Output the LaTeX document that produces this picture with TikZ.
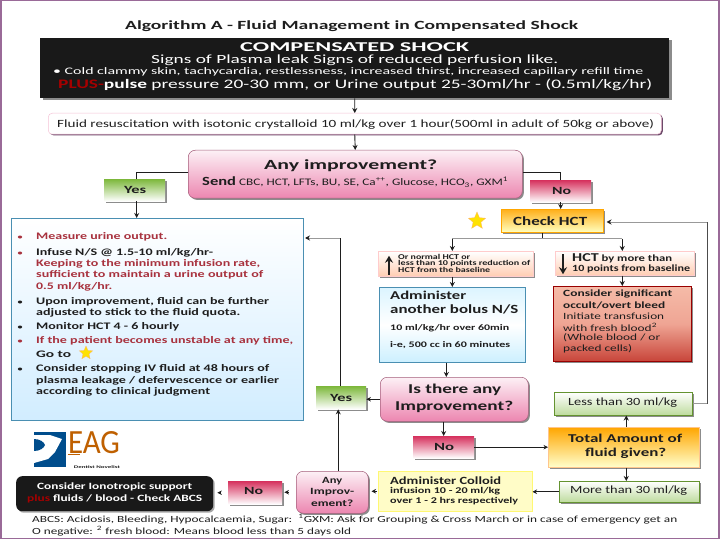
\documentclass[tikz,border=0pt]{standalone}
\usepackage{graphicx}
\usepackage{fontspec}
\setmainfont{Carlito}
\usetikzlibrary{arrows.meta,shapes.geometric,calc}
\definecolor{frame}{HTML}{9A6A98}
\definecolor{ink}{HTML}{1E1E1E}
\definecolor{redt}{HTML}{A8323E}
\definecolor{blueb}{HTML}{4A8FB2}
\definecolor{pinkb}{HTML}{EC86B0}
\definecolor{greenb}{HTML}{7DB83C}
\definecolor{crim}{HTML}{D6325E}
\definecolor{redtop}{HTML}{F5BBA8}
\definecolor{redmid}{HTML}{EFA594}
\definecolor{redbot}{HTML}{C8453A}
\newcount\tlc
\newcommand{\fsz}[2]{\fontsize{#1}{#2}\selectfont}
% \tl[options]{x1}{y}{x2}{size}{text}: a line of text fitted between x1 and x2
\newcommand{\tl}[6][]{\global\advance\tlc by 1
 \node[txt,font=\fsz{#5}{#5},#1] (line\the\tlc) at (#2,#3) {\resizebox{\dimexpr #4pt-#2pt\relax}{\height}{#6}};}
\tikzset{
 x=1pt,y=-1pt,
 shad/.style={preaction={fill=black!45,transform canvas={xshift=1.6pt,yshift=-1.6pt}}},
 box/.style={inner sep=0pt,anchor=north west,minimum width=#1},
 pinkbox/.style={shad,rounded corners=7pt,draw=pinkb!70!black,line width=.5pt,top color=white!88!pinkb,bottom color=pinkb},
 yesbox/.style={shad,top color=greenb,bottom color=white,draw=none,text=ink},
 nobox/.style={shad,top color=crim,bottom color=white,draw=none,text=ink},
 lgreen/.style={shad,top color=white,bottom color=greenb!50!white,draw=greenb!80!black,line width=.5pt,text=ink},
 hctbox/.style={shad,top color=white,bottom color=red!30!orange!30!white,draw=red!20,line width=.5pt},
 conn/.style={draw=ink,line width=.9pt,-{Stealth[length=5pt,width=5pt]}},
 thinc/.style={draw=ink,line width=.6pt,-{Stealth[length=4.5pt,width=4.5pt]}},
 plain/.style={draw=ink,line width=.9pt},
 light/.style={draw=black!40,line width=.8pt},
 txt/.style={inner sep=0pt,text=ink,anchor=west},
 starry/.style={star,star points=5,star point ratio=2.2,fill=yellow!85!orange,draw=orange!60,line width=.3pt,inner sep=0pt},
}
\begin{document}
\begin{tikzpicture}
\useasboundingbox (0,0) rectangle (720,540);
\fill[white] (0,0) rectangle (720,540);
\draw[frame,line width=1.4pt] (1,0.5) rectangle (719,538.5);
% title
\tl[font=\bfseries\fsz{12.5}{13}]{125}{26}{578}{12.5}{Algorithm A - Fluid Management in Compensated Shock}
% black box
\node[box=629pt,fill=black!90,minimum height=60pt,preaction={fill=black!45,transform canvas={xshift=3pt,yshift=-2pt}}] (shock) at (40,38) {};
\tl[text=white,font=\bfseries\fsz{13.5}{14}]{240}{47}{469}{13.5}{COMPENSATED SHOCK}
\tl[text=white]{151}{60}{558}{12.5}{Signs of Plasma leak Signs of reduced perfusion like.}
\tl[text=white]{53}{72}{643}{10}{\textbullet\ Cold clammy skin, tachycardia, restlessness, increased thirst, increased capillary refill time}
\tl[text=white]{58}{85}{652}{13}{\textcolor{red!65!black}{\bfseries PLUS-}\textbf{pulse} pressure 20-30 mm, or Urine output 25-30ml/hr - (0.5ml/kg/hr)}
% fluid
\node[box=613pt,minimum height=21pt,fill=white,draw=pinkb!50!white,rounded corners=4pt,line width=.5pt,preaction={fill=frame!70!black,transform canvas={xshift=1.5pt,yshift=-1.2pt}}] (fluid) at (48,113) {};
\tl{57}{124}{654}{11}{Fluid resuscitation with isotonic crystalloid 10 ml/kg over 1 hour(500ml in adult of 50kg or above)}
% any improvement
\node[box=334pt,pinkbox,minimum height=48pt] (any) at (188,150) {};
\tl[font=\bfseries\fsz{14}{14}]{264}{166}{437}{14}{Any improvement?}
\tl{202}{182}{508}{10}{{\bfseries\fsz{12.5}{13}Send} CBC, HCT, LFTs, BU, SE, Ca\textsuperscript{++}, Glucose, HCO\textsubscript{3}, GXM\textsuperscript{1}}
% yes / no
\node[box=61pt,yesbox,minimum height=22pt] (yes) at (104,179) {};
\tl[font=\bfseries\fsz{11}{11}]{124}{190}{146}{11}{Yes}
\node[box=61pt,nobox,minimum height=22pt] (no) at (530,180) {};
\tl[font=\bfseries\fsz{11}{11}]{552}{191}{571}{11}{No}
% check HCT
\node[box=102pt,shad,top color=orange!70!yellow!90!white,bottom color=yellow!25,draw=orange!70!yellow,line width=.5pt,minimum height=23pt] (check) at (501,209) {};
\tl[font=\bfseries\fsz{12.5}{13}]{513}{221}{587}{12.5}{Check HCT}
\node[starry,minimum size=18pt] (star1) at (477,221) {};
% blue box
\node[box=292pt,top color=white,bottom color=blue!40!cyan!18!white,draw=blueb,line width=1pt,minimum height=202pt] (blue) at (11,218) {};
\foreach \yy/\cc in {237/redt,253/redt,302/ink,327/ink,341/redt,369/ink}{\fill[\cc] (20,\yy) ellipse (2.2pt and 1.5pt);}
\tl[text=redt,font=\bfseries\fsz{10}{10}]{36}{237}{167}{10}{Measure urine output.}
\tl[font=\bfseries\fsz{10}{10}]{36}{253}{213}{10}{Infuse N/S @ 1.5-10 ml/kg/hr-}
\tl[text=redt,font=\bfseries\fsz{10}{10}]{36}{264}{260}{10}{Keeping to the minimum infusion rate,}
\tl[text=redt,font=\bfseries\fsz{10}{10}]{36}{275}{263}{10}{sufficient to maintain a urine output of}
\tl[text=redt,font=\bfseries\fsz{10}{10}]{36}{287}{112}{10}{0.5 ml/kg/hr.}
\tl[font=\bfseries\fsz{10}{10}]{36}{302}{269}{10}{Upon improvement, fluid can be further}
\tl[font=\bfseries\fsz{10}{10}]{36}{313}{240}{10}{adjusted to stick to the fluid quota.}
\tl[font=\bfseries\fsz{10}{10}]{36}{327}{179}{10}{Monitor HCT 4 - 6 hourly}
\tl[text=redt,font=\bfseries\fsz{10}{10}]{36}{341}{293}{10}{If the patient becomes unstable at any time,}
\tl[font=\bfseries\fsz{10}{10}]{36}{354}{71}{10}{Go to}
\tl[font=\bfseries\fsz{10}{10}]{36}{369}{269}{10}{Consider stopping IV fluid at 48 hours of}
\tl[font=\bfseries\fsz{10}{10}]{36}{381}{279}{10}{plasma leakage / defervescence or earlier}
\tl[font=\bfseries\fsz{10}{10}]{36}{392}{210}{10}{according to clinical judgment}
\node[starry,minimum size=14pt] (star2) at (86,353) {};
% HCT boxes
\node[box=155pt,hctbox,minimum height=25pt] (hctup) at (378,251) {};
\draw[-{Stealth[length=7pt,width=8pt]},ink,line width=1.4pt] (hctup.west) ++(11,11) coordinate (ua) -- ++(0,-19);
\tl[font=\bfseries\fsz{7.4}{8}]{398}{257}{470}{7.4}{Or normal HCT or}
\tl[font=\bfseries\fsz{7.4}{8}]{398}{263.5}{530}{7.4}{less than 10 points reduction of}
\tl[font=\bfseries\fsz{7.4}{8}]{398}{270}{490}{7.4}{HCT from the baseline}
\node[box=139pt,hctbox,minimum height=24pt] (hctdn) at (555,251) {};
\draw[-{Stealth[length=7pt,width=8pt]},ink,line width=1.4pt] (hctdn.west) ++(8,-9) coordinate (da) -- ++(0,20);
\tl[font=\bfseries\fsz{9.5}{10}]{572}{258}{672}{9.5}{{\fsz{12}{12}HCT} by more than}
\tl[font=\bfseries\fsz{9.5}{10}]{572}{268.5}{690}{9.5}{10 points from baseline}
% administer
\node[box=146pt,top color=blue!30!cyan!14!white,bottom color=blue!30!cyan!20!white,middle color=white,draw=blueb,line width=.7pt,minimum height=75pt] (admin) at (379,287) {};
\tl[font=\bfseries\fsz{12}{12}]{390}{295}{466}{12}{Administer}
\tl[font=\bfseries\fsz{12.5}{13}]{390}{309.5}{518}{12.5}{another bolus N/S}
\tl[font=\bfseries\fsz{8.5}{9}]{390}{328}{509}{8.5}{10 ml/kg/hr over 60min}
\tl[font=\bfseries\fsz{8.5}{9}]{390}{345}{510}{8.5}{i-e, 500 cc in 60 minutes}
% red
\node[box=138pt,shad,top color=redtop,bottom color=redbot,middle color=redmid,draw=red!60!black,line width=.5pt,minimum height=75pt] (redb) at (553,286) {};
\tl[font=\bfseries\fsz{9.5}{10}]{563}{294}{672}{9.5}{Consider significant}
\tl[font=\bfseries\fsz{9.5}{10}]{563}{305}{665}{9.5}{occult/overt bleed}
\tl{563}{316}{664}{9.5}{Initiate transfusion}
\tl{563}{327}{657}{9.5}{with fresh blood\textsuperscript{2}}
\tl{563}{338}{660}{9.5}{(Whole blood / or}
\tl{563}{348.5}{632}{9.5}{packed cells)}
% is there
\node[box=148pt,pinkbox,minimum height=44pt] (is) at (380,377) {};
\tl[font=\bfseries\fsz{13.5}{14}]{408}{390}{501}{13.5}{Is there any}
\tl[font=\bfseries\fsz{13.5}{14}]{395}{406.5}{513}{13.5}{Improvement?}
% yes2
\node[box=50pt,yesbox,minimum height=23pt] (yes2) at (316,386) {};
\tl[font=\bfseries\fsz{11}{11}]{330}{398}{352}{11}{Yes}
% less / total / more
\node[box=138pt,lgreen,minimum height=23pt] (less) at (554,392) {};
\tl{568}{402.5}{677}{11}{Less than 30 ml/kg}
\node[box=151pt,shad,top color=orange!70!yellow,bottom color=yellow!20,draw=orange!45,line width=.5pt,minimum height=40pt] (total) at (548,427) {};
\tl[font=\bfseries\fsz{12}{12}]{568}{438.5}{682}{12}{Total Amount of}
\tl[font=\bfseries\fsz{12}{12}]{585}{453}{666}{12}{fluid given?}
\node[box=140pt,lgreen,minimum height=21pt] (more) at (559,481) {};
\tl{570}{491}{687}{11}{More than 30 ml/kg}
\node[box=61pt,nobox,minimum height=22pt] (no2) at (413,436) {};
\tl[font=\bfseries\fsz{11}{11}]{434}{446.5}{454}{11}{No}
% colloid
\node[box=154pt,fill=yellow!22,draw=yellow!55,line width=.5pt,minimum height=40pt] (colloid) at (378,471) {};
\tl[font=\bfseries\fsz{11}{11}]{390}{481}{501}{11}{Administer Colloid}
\tl[font=\bfseries\fsz{8.8}{9}]{390}{491.5}{500}{8.8}{infusion 10 - 20 ml/kg}
\tl[font=\bfseries\fsz{8.8}{9}]{390}{501.5}{518}{8.8}{over 1 - 2 hrs respectively}
% any improve small
\node[box=72pt,pinkbox,minimum height=42pt] (anyb) at (296,471) {};
\tl[font=\bfseries\fsz{9.5}{10}]{322}{481}{342}{9.5}{Any}
\tl[font=\bfseries\fsz{9.5}{10}]{310}{492}{354}{9.5}{Improv-}
\tl[font=\bfseries\fsz{9.5}{10}]{311}{503}{353}{9.5}{ement?}
\node[box=54pt,nobox,minimum height=23pt] (no3) at (228,481) {};
\tl[font=\bfseries\fsz{11}{11}]{244}{491}{263}{11}{No}
% inotropic
\node[box=197pt,fill=black!90,rounded corners=6pt,minimum height=35pt,preaction={fill=black!35,rounded corners=6pt,transform canvas={xshift=1.5pt,yshift=-1.5pt}}] (ino) at (16,476) {};
\tl[text=white,font=\bfseries\fsz{9.6}{10}]{37}{487}{192}{9.6}{Consider Ionotropic support}
\tl[text=white,font=\bfseries\fsz{9.6}{10}]{27}{499}{202}{9.6}{\textcolor{red!65!black}{plus} fluids / blood - Check ABCS}
% logo
\fill[blue!45!cyan!55!black] (34,432) rectangle (66,467);
\fill[white] (34,435) -- (50,435) -- (62,439) -- (55,452) -- (48,459) -- (34,463) -- cycle;
\fill[blue!45!cyan!55!black] (34,439) .. controls (40,439) and (44,442) .. (45,445) .. controls (44,448) and (40,451) .. (34,451) -- cycle;
\node[inner sep=0pt,text=orange!75!black,font=\fsz{20}{20}] (eag) at (94,443) {\resizebox{52pt}{22pt}{EAG}};
\draw[orange!75!black,line width=1pt] (68,454) -- (80,454);
\node[inner sep=0pt,text=ink,font=\bfseries\fsz{4}{4}] (eagt) at (97,467) {\resizebox{46pt}{\height}{Dentist Novelist}};
% footnotes
\tl{32}{519.5}{677}{9.4}{ABCS: Acidosis, Bleeding, Hypocalcaemia, Sugar:\ \ \textsuperscript{1}GXM: Ask for Grouping \& Cross March or in case of emergency get an}
\tl{32}{531}{351}{9.4}{O negative: \textsuperscript{2} fresh blood: Means blood less than 5 days old}
% connectors
\draw[conn] (shock.south) -- (fluid.north);
\draw[conn] (fluid.south) -- (any.north);
\draw[plain] ([yshift=2pt]any.west) -| ([xshift=2pt]yes.north);
\draw[conn] ([xshift=2pt]yes.south) -- ([xshift=2pt]yes.south |- blue.north);
\draw[plain] ([yshift=2pt]any.east) -| (no.north);
\draw[conn] (no.south) -- (no.south |- check.north);
\coordinate (split) at ([xshift=-10pt,yshift=-6pt]check.south);
\draw[plain] ([xshift=-10pt]check.south) -- (split);
\draw[light] (admin.north |- split) -- (redb.north |- split);
\draw[conn] (admin.north |- split) -- (admin.north |- hctup.north);
\draw[conn] (redb.north |- split) -- (redb.north |- hctdn.north);
\draw[conn] (admin.north |- hctup.south) -- (admin.north);
\draw[conn] (redb.north |- hctdn.south) -- (redb.north);
\draw[conn] ([xshift=-6pt]admin.south) -- ([xshift=-6pt]admin.south |- is.north);
\draw[conn] (no2.north |- is.south) -- (no2.north);
\draw[thinc] (no2.east) -- (total.west |- no2.east);
\draw[conn] ([xshift=2.5pt]total.north) -- ([xshift=2.5pt]total.north |- less.south);
\draw[conn] ([xshift=2.5pt]total.south) -- ([xshift=2.5pt]total.south |- more.north);
\draw[thinc] (more.west) -- (colloid.east |- more.west);
\draw[thinc,shorten >=3pt,shorten <=1pt] (colloid.west) -- (anyb.east |- colloid.west);
\draw[thinc,shorten >=2pt,shorten <=7pt] (anyb.west) -- (no3.east |- anyb.west);
\draw[thinc,shorten >=4pt,shorten <=8pt] (no3.west) -- (ino.east |- no3.west);
\draw[conn,line width=1.2pt] ([xshift=-3pt]yes2.south |- anyb.north) -- ([xshift=-3pt]yes2.south);
\draw[thinc] (is.west) -- (yes2.east |- is.west);
\coordinate (rr) at (707,222);
\draw[light] (less.east) -- (rr |- less.east);
\draw[draw=black!70,line width=.8pt] (rr |- less.east) -- (rr);
\draw[light,-{Stealth[length=5pt,width=5pt,color=ink]}] (rr) -- ([xshift=3pt]check.east |- rr);
\coordinate (bi) at (305,238);
\draw[plain] ([xshift=-1pt]yes2.north) -- ([xshift=-1pt]yes2.north |- bi);
\draw[light,-{Stealth[length=5pt,width=5pt,color=ink]}] ([xshift=-1pt]yes2.north |- bi) -- (bi);
\end{tikzpicture}
\end{document}
